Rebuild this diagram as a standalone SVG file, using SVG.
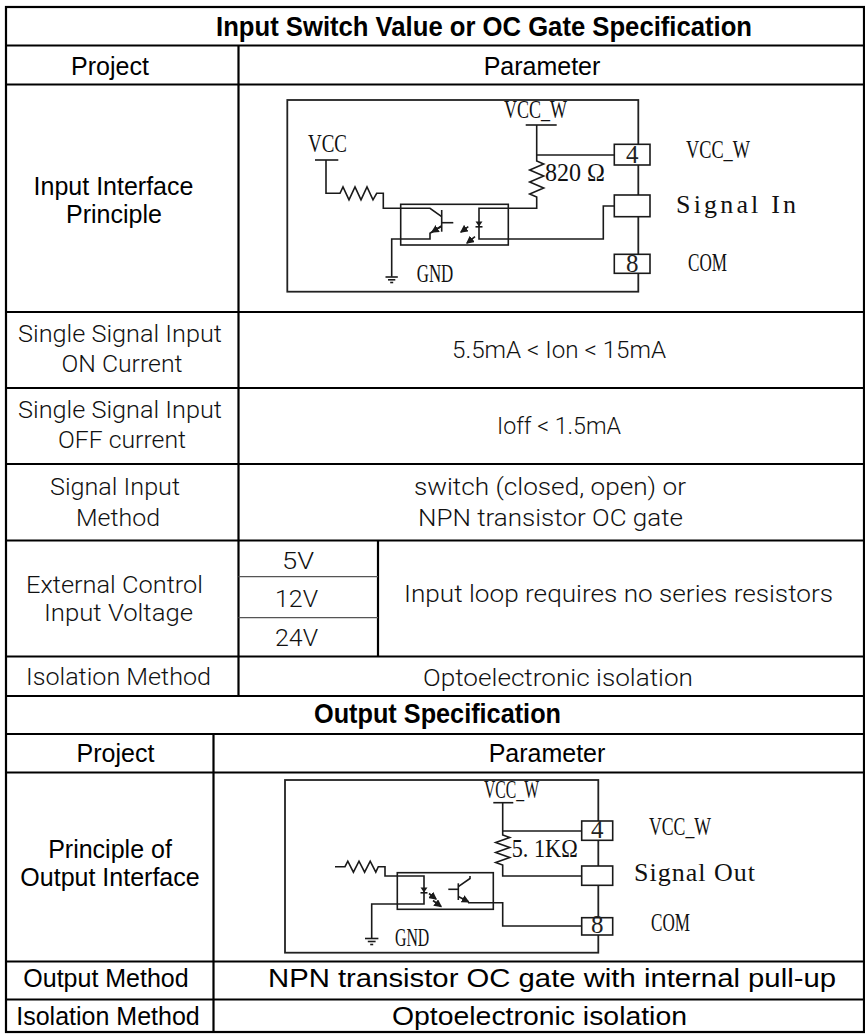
<svg xmlns="http://www.w3.org/2000/svg" width="865" height="1034" viewBox="0 0 865 1034">
<style>
.bg{fill:#ffffff}
.tb{stroke:#000;stroke-width:2.2;fill:none}
.thin{stroke:#555;stroke-width:1.2;fill:none}
.ar{font-family:"Liberation Sans",Arial,sans-serif;font-size:25px;fill:#000;text-anchor:middle}
.arb{font-family:"Liberation Sans",Arial,sans-serif;font-size:27px;font-weight:bold;fill:#000;text-anchor:middle}
.lt{font-family:Roboto,"Open Sans",sans-serif;font-size:24px;font-weight:300;fill:#111;text-anchor:middle}
.w{stroke:#1a1a1a;stroke-width:1.6;fill:none}
.frame{stroke:#222;stroke-width:1.8;fill:none}
.pin{stroke:#1a1a1a;stroke-width:1.6;fill:#fff}
.sf{font-family:"Liberation Serif","Times New Roman",serif;font-size:26px;fill:#111}
.sfm{font-family:"Liberation Serif","Times New Roman",serif;font-size:25px;fill:#222;text-anchor:middle}
.fillk{fill:#1a1a1a;stroke:none}
</style>
<defs>
<marker id="ah" viewBox="0 0 6 6" refX="5" refY="3" markerWidth="5" markerHeight="5" orient="auto">
<path d="M0,0 L6,3 L0,6 z" fill="#1a1a1a"/>
</marker>
</defs>
<rect class="bg" x="0" y="0" width="865" height="1034"/>

<g id="table">
<rect class="tb" x="6" y="7" width="858" height="1025"/>
<line class="tb" x1="6" y1="45.5" x2="864" y2="45.5"/>
<line class="tb" x1="6" y1="84.5" x2="864" y2="84.5"/>
<line class="tb" x1="6" y1="312" x2="864" y2="312"/>
<line class="tb" x1="6" y1="388" x2="864" y2="388"/>
<line class="tb" x1="6" y1="464" x2="864" y2="464"/>
<line class="tb" x1="6" y1="540.5" x2="864" y2="540.5"/>
<line class="tb" x1="6" y1="656.5" x2="864" y2="656.5"/>
<line class="tb" x1="6" y1="696" x2="864" y2="696"/>
<line class="tb" x1="6" y1="734" x2="864" y2="734"/>
<line class="tb" x1="6" y1="772.5" x2="864" y2="772.5"/>
<line class="tb" x1="6" y1="961.5" x2="864" y2="961.5"/>
<line class="tb" x1="6" y1="999.5" x2="864" y2="999.5"/>
<line class="tb" x1="238.5" y1="45.5" x2="238.5" y2="696"/>
<line class="tb" x1="378" y1="540.5" x2="378" y2="656.5"/>
<line class="thin" x1="238.5" y1="576.7" x2="378" y2="576.7"/>
<line class="thin" x1="238.5" y1="617.7" x2="378" y2="617.7"/>
<line class="tb" x1="213.5" y1="734" x2="213.5" y2="1032"/>
</g>

<g id="headers">
<text class="arb" x="484" y="36" textLength="536" lengthAdjust="spacingAndGlyphs">Input Switch Value or OC Gate Specification</text>
<text class="ar" x="110" y="75">Project</text>
<text class="ar" x="542" y="75">Parameter</text>
<text class="arb" x="437.5" y="723" textLength="247" lengthAdjust="spacingAndGlyphs">Output Specification</text>
<text class="ar" x="115.5" y="762">Project</text>
<text class="ar" x="547" y="762">Parameter</text>
</g>

<g id="row-input-principle">
<text class="ar" x="113.5" y="195">Input Interface</text>
<text class="ar" x="114" y="223">Principle</text>
</g>

<g id="circuit-input">
<rect class="frame" x="287.3" y="100" width="351" height="191.7"/>
<text class="sf" x="504" y="118.3" textLength="63" lengthAdjust="spacingAndGlyphs">VCC_W</text>
<line class="w" x1="525.7" y1="125" x2="556.7" y2="125"/>
<path class="w" d="M536.7,125 V161 l7,3 l-14,6 l14,6 l-14,6 l14,6 l-14,6 l7,3 V208.3 H479 V239 H603.3 V206 H614.3"/>
<line class="w" x1="536.7" y1="155" x2="614.3" y2="155"/>
<path class="fillk" d="M475.5,221.5 L482.5,221.5 L479,226.5 Z"/>
<line class="w" x1="475.5" y1="226.8" x2="482.5" y2="226.8"/>
<text class="sf" x="545" y="181" textLength="60" lengthAdjust="spacingAndGlyphs">820 Ω</text>
<text class="sf" x="308" y="152.3" textLength="39" lengthAdjust="spacingAndGlyphs">VCC</text>
<line class="w" x1="315" y1="160" x2="338.3" y2="160"/>
<path class="w" d="M326,160 V193.3 H340 l3,-6.5 l6,13 l6,-13 l6,13 l6,-13 l6,13 l3.7,-6.5 H383.3 V208.3 H430 L441.7,216.7"/>
<rect class="w" x="400.7" y="204.3" width="107.6" height="40.7"/>
<line class="w" x1="441.7" y1="210" x2="441.7" y2="231.7"/>
<line class="w" x1="441.7" y1="222.7" x2="453.3" y2="222.7"/>
<path class="w" d="M441.7,226 L430,233.3 V239 H391.7 V276.7"/>
<path class="w" d="M441.7,226 L432,232" marker-end="url(#ah)"/>
<line class="w" x1="385.5" y1="277" x2="397.8" y2="277"/>
<line class="w" x1="388" y1="279.8" x2="395.3" y2="279.8"/>
<line class="w" x1="390.2" y1="282.5" x2="393.2" y2="282.5"/>
<text class="sf" x="416.7" y="281.7" textLength="36.6" lengthAdjust="spacingAndGlyphs">GND</text>
<line class="w" x1="468.3" y1="226.7" x2="461" y2="232" marker-end="url(#ah)"/>
<line class="w" x1="475" y1="236.7" x2="467" y2="243" marker-end="url(#ah)"/>
<rect class="pin" x="614.3" y="144.3" width="35.7" height="20.7"/>
<text class="sfm" x="632.2" y="162.5">4</text>
<rect class="pin" x="614.3" y="195" width="35.7" height="21.7"/>
<rect class="pin" x="614.3" y="254.3" width="35.7" height="19"/>
<text class="sfm" x="632.2" y="271.5">8</text>
<text class="sf" x="686" y="158" textLength="64" lengthAdjust="spacingAndGlyphs">VCC_W</text>
<text class="sf" x="676" y="213" textLength="120" lengthAdjust="spacing">Signal In</text>
<text class="sf" x="688" y="271" textLength="39" lengthAdjust="spacingAndGlyphs">COM</text>
</g>

<g id="row-on-current">
<text class="lt" x="120" y="342" textLength="204" lengthAdjust="spacingAndGlyphs">Single Signal Input</text>
<text class="lt" x="122" y="372" textLength="121" lengthAdjust="spacingAndGlyphs">ON Current</text>
<text class="lt" x="559" y="358" textLength="214" lengthAdjust="spacingAndGlyphs">5.5mA &lt; Ion &lt; 15mA</text>
</g>

<g id="row-off-current">
<text class="lt" x="120" y="418" textLength="204" lengthAdjust="spacingAndGlyphs">Single Signal Input</text>
<text class="lt" x="122" y="448" textLength="128" lengthAdjust="spacingAndGlyphs">OFF current</text>
<text class="lt" x="559" y="434" textLength="124" lengthAdjust="spacingAndGlyphs">Ioff &lt; 1.5mA</text>
</g>

<g id="row-signal-method">
<text class="lt" x="115" y="495" textLength="130" lengthAdjust="spacingAndGlyphs">Signal Input</text>
<text class="lt" x="118" y="526" textLength="84" lengthAdjust="spacingAndGlyphs">Method</text>
<text class="lt" x="550" y="495" textLength="272" lengthAdjust="spacingAndGlyphs">switch (closed, open) or</text>
<text class="lt" x="550.5" y="526" textLength="265" lengthAdjust="spacingAndGlyphs">NPN transistor OC gate</text>
</g>

<g id="row-voltage">
<text class="lt" x="114.5" y="593" textLength="177" lengthAdjust="spacingAndGlyphs">External Control</text>
<text class="lt" x="118.5" y="621" textLength="149" lengthAdjust="spacingAndGlyphs">Input Voltage</text>
<text class="lt" x="298" y="569" textLength="32" lengthAdjust="spacingAndGlyphs">5V</text>
<text class="lt" x="296.5" y="607" textLength="43" lengthAdjust="spacingAndGlyphs">12V</text>
<text class="lt" x="296.5" y="646" textLength="43" lengthAdjust="spacingAndGlyphs">24V</text>
<text class="lt" x="618.5" y="602" textLength="429" lengthAdjust="spacingAndGlyphs">Input loop requires no series resistors</text>
</g>

<g id="row-isolation-in">
<text class="lt" x="118.5" y="685" textLength="185" lengthAdjust="spacingAndGlyphs">Isolation Method</text>
<text class="lt" x="558" y="686" textLength="270" lengthAdjust="spacingAndGlyphs">Optoelectronic isolation</text>
</g>

<g id="row-output-principle">
<text class="ar" x="110" y="858">Principle of</text>
<text class="ar" x="110" y="886">Output Interface</text>
</g>

<g id="circuit-output">
<rect class="frame" x="285" y="780" width="313.3" height="172.7"/>
<text class="sf" x="484" y="798.3" textLength="55" lengthAdjust="spacingAndGlyphs">VCC_W</text>
<line class="w" x1="493.3" y1="802.7" x2="513.3" y2="802.7"/>
<path class="w" d="M502.7,802.7 V835 l7,2.5 l-14,5 l14,5 l-14,5 l14,5 l-14,5 l7,2.5 V876 H581.7"/>
<line class="w" x1="502.7" y1="831" x2="581.7" y2="831"/>
<text class="sf" x="511.7" y="857.3" textLength="66" lengthAdjust="spacingAndGlyphs">5. 1KΩ</text>
<rect class="w" x="397.3" y="872.7" width="96" height="36.6"/>
<path class="w" d="M335,866.7 H345 l2.8,-5.5 l5.6,11 l5.6,-11 l5.6,11 l5.6,-11 l5.6,11 l2.5,-5.5 H385 V876 H424 V904 H371.7 V938.3"/>
<path class="fillk" d="M420.5,887.5 L427.5,887.5 L424,892.5 Z"/>
<line class="w" x1="420.5" y1="892.8" x2="427.5" y2="892.8"/>
<line class="w" x1="365" y1="938.5" x2="378.4" y2="938.5"/>
<line class="w" x1="367.8" y1="941.5" x2="375.6" y2="941.5"/>
<line class="w" x1="370.2" y1="944.5" x2="373.2" y2="944.5"/>
<text class="sf" x="395" y="946" textLength="34.3" lengthAdjust="spacingAndGlyphs">GND</text>
<line class="w" x1="429" y1="893.5" x2="436" y2="899" marker-end="url(#ah)"/>
<line class="w" x1="433" y1="900.5" x2="441" y2="906.5" marker-end="url(#ah)"/>
<line class="w" x1="458.3" y1="883.3" x2="458.3" y2="900"/>
<line class="w" x1="448.3" y1="889.3" x2="458.3" y2="889.3"/>
<path class="w" d="M458.3,886.7 L470,878.5 V876"/>
<path class="w" d="M458.3,896.5 L468.5,901.8" marker-end="url(#ah)"/>
<path class="w" d="M468,902.7 H502.7 V926 H581.7"/>
<rect class="pin" x="581.7" y="821" width="31" height="19.3"/>
<text class="sfm" x="597.2" y="838">4</text>
<rect class="pin" x="581.7" y="866" width="31" height="19.3"/>
<rect class="pin" x="581.7" y="917.7" width="31" height="17.3"/>
<text class="sfm" x="597.2" y="933">8</text>
<text class="sf" x="649" y="835" textLength="62" lengthAdjust="spacingAndGlyphs">VCC_W</text>
<text class="sf" x="634" y="881" textLength="121" lengthAdjust="spacing">Signal Out</text>
<text class="sf" x="651" y="931" textLength="39" lengthAdjust="spacingAndGlyphs">COM</text>
</g>

<g id="row-output-method">
<text class="ar" x="106" y="987">Output Method</text>
<text class="ar" x="552" y="987" textLength="568" lengthAdjust="spacingAndGlyphs">NPN transistor OC gate with internal pull-up</text>
</g>

<g id="row-isolation-out">
<text class="ar" x="108" y="1025">Isolation Method</text>
<text class="ar" x="539.5" y="1025" textLength="295" lengthAdjust="spacingAndGlyphs">Optoelectronic isolation</text>
</g>
</svg>
